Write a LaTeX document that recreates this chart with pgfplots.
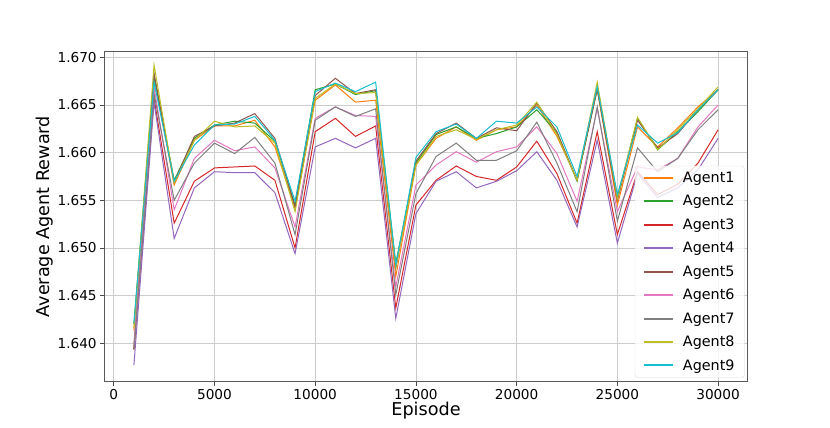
\documentclass[border=0pt]{standalone}
\usepackage{pgfplots}
\usepackage{pgfplotstable}
\pgfplotsset{compat=1.18}
\usepackage{fontspec}
\setmainfont{DejaVu Sans}
\definecolor{agA}{HTML}{FF7F0E}
\definecolor{agB}{HTML}{2CA02C}
\definecolor{agC}{HTML}{D62728}
\definecolor{agD}{HTML}{9467BD}
\definecolor{agE}{HTML}{8C564B}
\definecolor{agF}{HTML}{E377C2}
\definecolor{agG}{HTML}{7F7F7F}
\definecolor{agH}{HTML}{BCBD22}
\definecolor{agI}{HTML}{17BECF}
\pgfplotstableread{
x a1 a2 a3 a4 a5 a6 a7 a8 a9
1000 1.6414 1.6420 1.6394 1.6377 1.6393 1.6400 1.6395 1.6416 1.6421
2000 1.6681 1.6680 1.6657 1.6653 1.6683 1.6669 1.6662 1.6692 1.6674
3000 1.6566 1.6571 1.6526 1.6510 1.6569 1.6540 1.6550 1.6568 1.6570
4000 1.6613 1.6615 1.6570 1.6563 1.6617 1.6594 1.6589 1.6613 1.6608
5000 1.6628 1.6629 1.6584 1.6580 1.6628 1.6613 1.6610 1.6633 1.6629
6000 1.6628 1.6633 1.6585 1.6579 1.6631 1.6602 1.6599 1.6627 1.6630
7000 1.6634 1.6631 1.6586 1.6579 1.6641 1.6606 1.6616 1.6628 1.6638
8000 1.6606 1.6612 1.6571 1.6558 1.6615 1.6584 1.6589 1.6610 1.6613
9000 1.6542 1.6545 1.6500 1.6494 1.6543 1.6522 1.6514 1.6538 1.6549
10000 1.6655 1.6666 1.6622 1.6606 1.6660 1.6636 1.6634 1.6657 1.6664
11000 1.6671 1.6672 1.6636 1.6615 1.6678 1.6648 1.6648 1.6672 1.6673
12000 1.6653 1.6661 1.6617 1.6605 1.6662 1.6639 1.6638 1.6662 1.6664
13000 1.6655 1.6665 1.6628 1.6615 1.6666 1.6638 1.6646 1.6663 1.6674
14000 1.6470 1.6484 1.6437 1.6426 1.6479 1.6459 1.6451 1.6480 1.6482
15000 1.6587 1.6589 1.6545 1.6536 1.6591 1.6566 1.6557 1.6587 1.6595
16000 1.6615 1.6619 1.6571 1.6570 1.6620 1.6587 1.6596 1.6617 1.6622
17000 1.6627 1.6627 1.6586 1.6580 1.6631 1.6601 1.6610 1.6624 1.6630
18000 1.6613 1.6615 1.6575 1.6563 1.6615 1.6590 1.6592 1.6614 1.6615
19000 1.6624 1.6620 1.6571 1.6570 1.6626 1.6601 1.6592 1.6624 1.6633
20000 1.6627 1.6627 1.6585 1.6581 1.6623 1.6606 1.6602 1.6629 1.6631
21000 1.6650 1.6645 1.6612 1.6601 1.6652 1.6627 1.6632 1.6653 1.6648
22000 1.6617 1.6621 1.6578 1.6571 1.6622 1.6599 1.6589 1.6619 1.6627
23000 1.6572 1.6570 1.6526 1.6522 1.6571 1.6549 1.6538 1.6571 1.6575
24000 1.6666 1.6667 1.6622 1.6613 1.6667 1.6646 1.6648 1.6674 1.6669
25000 1.6545 1.6552 1.6514 1.6505 1.6550 1.6538 1.6528 1.6552 1.6556
26000 1.6627 1.6636 1.6580 1.6578 1.6634 1.6585 1.6605 1.6637 1.6629
27000 1.6606 1.6603 1.6556 1.6553 1.6605 1.6582 1.6580 1.6603 1.6610
28000 1.6626 1.6622 1.6567 1.6563 1.6620 1.6594 1.6594 1.6624 1.6621
29000 1.6648 1.6643 1.6589 1.6582 1.6645 1.6627 1.6624 1.6646 1.6645
30000 1.6666 1.6666 1.6624 1.6615 1.6666 1.6650 1.6645 1.6669 1.6666
}\data
\begin{document}
\begin{tikzpicture}
\path[use as bounding box] (-104.7bp,-46.3bp) rectangle (725.3bp,381.7bp);
\begin{axis}[
  at={(0,0)}, anchor=south west,
  scale only axis,
  width=642.6bp, height=330bp,
  xmin=-450, xmax=31450,
  ymin=1.63597, ymax=1.67059,
  xtick={0,5000,10000,15000,20000,25000,30000},
  ytick={1.640,1.645,1.650,1.655,1.660,1.665,1.670},
  scaled x ticks=false, scaled y ticks=false,
  x tick label style={/pgf/number format/.cd, 1000 sep={}, assume math mode=true},
  y tick label style={/pgf/number format/.cd, fixed, fixed zerofill, precision=3, assume math mode=true},
  tick label style={font=\fontsize{13.7}{16}\selectfont, text=black},
  tick pos=left, tick align=outside,
  major tick length=4.5bp,
  every tick/.style={black!70, line width=0.7bp},
  axis line style={black!65, line width=0.8bp},
  grid=major,
  grid style={black!20, line width=0.8bp},
  xlabel={Episode}, ylabel={Average Agent Reward},
  xlabel style={font=\fontsize{17.7}{20}\selectfont, at={(axis description cs:0.5,-0.0888)}, anchor=center},
  ylabel style={font=\fontsize{17.7}{20}\selectfont, at={(axis description cs:-0.0929,0.5)}, anchor=center},
  every axis plot/.append style={line width=1bp},
  legend cell align=left,
  legend image code/.code={\draw[#1, line width=2bp] (0bp,0bp) -- (29bp,0bp);},
  legend style={at={(rel axis cs:0.996,0.012)}, anchor=south east,
    font=\fontsize{14.4}{16}\selectfont, draw=black!15, rounded corners=3bp,
    fill=white, fill opacity=0.8, text opacity=1,
    row sep=7.4bp, inner xsep=8bp, inner ysep=4bp,
    /tikz/every odd column/.append style={column sep=7bp}},
]
\addplot[color=agA] table[x=x,y=a1]{\data}; \addlegendentry{Agent1}
\addplot[color=agB] table[x=x,y=a2]{\data}; \addlegendentry{Agent2}
\addplot[color=agC] table[x=x,y=a3]{\data}; \addlegendentry{Agent3}
\addplot[color=agD] table[x=x,y=a4]{\data}; \addlegendentry{Agent4}
\addplot[color=agE] table[x=x,y=a5]{\data}; \addlegendentry{Agent5}
\addplot[color=agF] table[x=x,y=a6]{\data}; \addlegendentry{Agent6}
\addplot[color=agG] table[x=x,y=a7]{\data}; \addlegendentry{Agent7}
\addplot[color=agH] table[x=x,y=a8]{\data}; \addlegendentry{Agent8}
\addplot[color=agI] table[x=x,y=a9]{\data}; \addlegendentry{Agent9}
\node[anchor=south west, font=\fontsize{13.7}{16}\selectfont, inner sep=0pt] at (rel axis cs:0,1) [yshift=3bp] {1e8};
\end{axis}
\end{tikzpicture}
\end{document}
